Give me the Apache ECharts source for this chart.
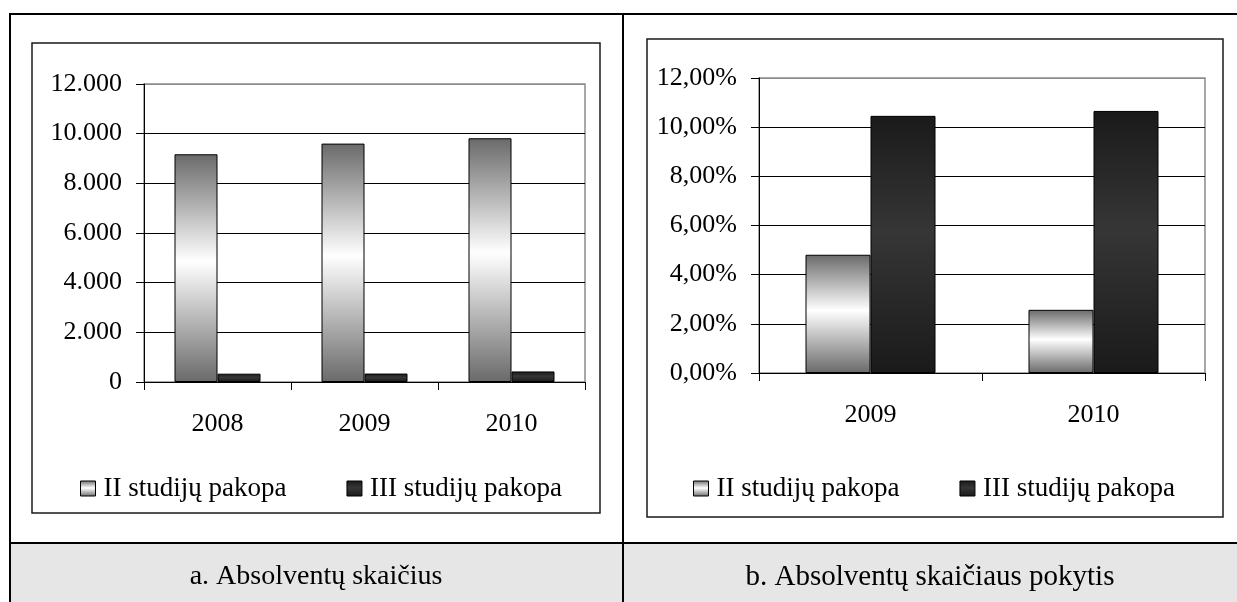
<!DOCTYPE html>
<html>
<head>
<meta charset="utf-8">
<title>Absolventų skaičius</title>
<script src="https://cdn.jsdelivr.net/npm/echarts@6/dist/echarts.min.js"></script>
<style>
  html, body { margin: 0; padding: 0; background: #fff; }
  #chart { width: 1237px; height: 602px; }
</style>
</head>
<body>
<div id="chart"></div>
<script>
// Graduates by study cycle (left panel) and their yearly change (right panel)
const countYears = ['2008', '2009', '2010'];
const secondCycleCount = [9170, 9600, 9815];
const thirdCycleCount = [335, 340, 425];

const changeYears = ['2009', '2010'];
const secondCycleChange = [4.81, 2.57];
const thirdCycleChange = [10.46, 10.66];

const seriesNames = ['II studijų pakopa', 'III studijų pakopa'];
const captions = ['a. Absolventų skaičius', 'b. Absolventų skaičiaus pokytis'];

const FONT = "'Liberation Serif', 'Times New Roman', serif";

const lightFill = new echarts.graphic.LinearGradient(0, 0, 0, 1, [
  { offset: 0, color: '#6a6a6a' },
  { offset: 0.47, color: '#ffffff' },
  { offset: 1, color: '#6a6a6a' }
]);
const darkFill = new echarts.graphic.LinearGradient(0, 0, 0, 1, [
  { offset: 0, color: '#1a1a1a' },
  { offset: 0.45, color: '#363636' },
  { offset: 1, color: '#1a1a1a' }
]);

function countLabel(v) {
  return v === 0 ? '0' : (v / 1000).toFixed(3);
}
function pctLabel(v) {
  return v.toFixed(2).replace('.', ',') + '%';
}

function valueAxis(gridIndex, max, interval, formatter) {
  return {
    type: 'value', gridIndex: gridIndex, min: 0, max: max, interval: interval,
    axisLine: { show: true, lineStyle: { color: '#000', width: 1 } },
    axisTick: { show: true, length: 8, lineStyle: { color: '#000' } },
    axisLabel: { formatter: formatter, margin: 22, color: '#000', fontFamily: FONT, fontSize: 26 },
    splitLine: { show: true, lineStyle: { color: ['#000', '#000', '#000', '#000', '#000', '#000', '#8c8c8c'], width: 1 } }
  };
}
function categoryAxis(gridIndex, data, margin) {
  return {
    type: 'category', gridIndex: gridIndex, data: data,
    axisLine: { show: true, lineStyle: { color: '#000', width: 1 } },
    axisTick: { show: true, length: 8, lineStyle: { color: '#000' } },
    axisLabel: { margin: margin, color: '#000', fontFamily: FONT, fontSize: 26 }
  };
}
function bars(name, data, axis, width, fill) {
  return {
    name: name, type: 'bar', data: data,
    xAxisIndex: axis, yAxisIndex: axis,
    barWidth: width, barGap: '0%',
    itemStyle: { color: fill, borderColor: '#000', borderWidth: 1 },
    emphasis: { disabled: true }
  };
}
function legend(left) {
  return {
    left: left, top: 475, orient: 'horizontal', padding: 0,
    itemWidth: 15, itemHeight: 15, itemGap: 60,
    icon: 'rect', selectedMode: false,
    itemStyle: { borderColor: '#000', borderWidth: 1 },
    textStyle: { color: '#000', fontFamily: FONT, fontSize: 27, padding: [0, 0, 0, 3] },
    data: seriesNames
  };
}

const chart = echarts.init(document.getElementById('chart'), null, { renderer: 'canvas' });

chart.setOption({
  backgroundColor: '#fff',
  animation: false,
  grid: [
    { left: 144, top: 84, width: 441, height: 298, show: true, borderColor: '#8c8c8c', borderWidth: 1.5, backgroundColor: 'transparent' },
    { left: 759, top: 78, width: 446, height: 295, show: true, borderColor: '#8c8c8c', borderWidth: 1.5, backgroundColor: 'transparent' }
  ],
  xAxis: [categoryAxis(0, countYears, 29), categoryAxis(1, changeYears, 29)],
  yAxis: [valueAxis(0, 12000, 2000, countLabel), valueAxis(1, 12, 2, pctLabel)],
  legend: [legend(80), legend(693)],
  series: [
    bars(seriesNames[0], secondCycleCount, 0, 43, lightFill),
    bars(seriesNames[1], thirdCycleCount, 0, 43, darkFill),
    bars(seriesNames[0], secondCycleChange, 1, 65, lightFill),
    bars(seriesNames[1], thirdCycleChange, 1, 65, darkFill)
  ],
  graphic: [
    // caption row background
    { type: 'rect', z: -10, shape: { x: 10, y: 544, width: 1227, height: 58 }, style: { fill: '#e6e6e6' } },
    // table rules
    { type: 'line', shape: { x1: 9, y1: 14, x2: 1237, y2: 14 }, style: { stroke: '#000', lineWidth: 2 } },
    { type: 'line', shape: { x1: 10, y1: 13, x2: 10, y2: 602 }, style: { stroke: '#000', lineWidth: 2 } },
    { type: 'line', shape: { x1: 623, y1: 13, x2: 623, y2: 602 }, style: { stroke: '#000', lineWidth: 2 } },
    { type: 'line', shape: { x1: 9, y1: 543, x2: 1237, y2: 543 }, style: { stroke: '#000', lineWidth: 2 } },
    // chart frames
    { type: 'rect', shape: { x: 32, y: 43, width: 568, height: 470 }, style: { fill: null, stroke: '#1a1a1a', lineWidth: 1.5 } },
    { type: 'rect', shape: { x: 647, y: 39, width: 576, height: 478 }, style: { fill: null, stroke: '#1a1a1a', lineWidth: 1.5 } },
    // captions
    { type: 'text', x: 316, y: 577, style: { text: captions[0], fill: '#000', font: '28px ' + FONT, textAlign: 'center', textVerticalAlign: 'middle' } },
    { type: 'text', x: 930, y: 577, style: { text: captions[1], fill: '#000', font: '29px ' + FONT, textAlign: 'center', textVerticalAlign: 'middle' } }
  ]
});
</script>
</body>
</html>
